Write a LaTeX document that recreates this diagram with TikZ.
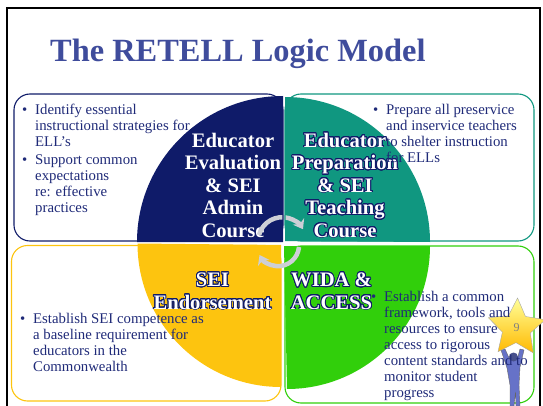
\documentclass[tikz,border=0pt]{standalone}
\usepackage{fontspec}
\setmainfont{Liberation Serif}
\usepackage{contour}
\usepackage{tikz}
\usetikzlibrary{shapes.geometric, arrows.meta}
\contournumber{24}
\contourlength{0.85pt}
\definecolor{navyq}{HTML}{0F1B69}
\definecolor{tealq}{HTML}{109780}
\definecolor{yellowq}{HTML}{FDC40F}
\definecolor{greenq}{HTML}{31CF0B}
\definecolor{titleblue}{HTML}{3F4C9C}
\definecolor{bodyblue}{HTML}{1F2A78}
\definecolor{arrowgray}{HTML}{CDCFD6}
\definecolor{manblue}{HTML}{6672C8}
\newcommand{\outl}[1]{\contour{navyq}{#1}}
\tikzset{
    panel/.style={draw, line width=1.1pt, rounded corners=16pt},
    bullets/.style={anchor=north west, inner sep=0pt, align=left,
        font=\fontsize{14.8}{16}\selectfont, text=bodyblue},
    hublabel/.style={anchor=center, inner sep=0pt, align=center, text=white,
        font=\fontsize{20.6}{22.5}\selectfont\bfseries},
    turn/.style={draw=arrowgray, line width=4.5pt, -{Stealth[length=9pt,width=13pt]}}
}
\newcommand{\itemq}[1]{\hbox to 0pt{\hss\textbullet\hspace{8pt}}#1}
\begin{document}
\begin{tikzpicture}[x=1pt,y=1pt]
\useasboundingbox (0,0) rectangle (543,-406);
% slide frame
\draw[line width=2pt] (7,-406) -- (7,-8) -- (540,-8) -- (540,-406);
\node[anchor=west, inner sep=0pt, text=titleblue, font=\fontsize{32.4}{36}\selectfont\bfseries] (title) at (50,-54) {The RETELL Logic Model};

% quarter discs
\fill[navyq] (283,-242) -- (137,-242) arc (180:90:146) -- cycle;
\fill[tealq] (285,-241) -- (285,-97) arc (90:0:145) -- cycle;
\fill[yellowq] (281,-245) -- (281,-387) arc (270:180:143.5) -- cycle;
\fill[greenq] (284,-246) -- (430,-246) arc (0:-90:143) -- cycle;

% labels
\node[hublabel] (eval) at (233,-185.5) {\outl{Educator}\\\outl{Evaluation}\\\outl{\& SEI}\\\outl{Admin}\\\outl{Course}};
\node[hublabel] (prep) at (345,-185.5) {\outl{Educator}\\\outl{Preparation}\\\outl{\& SEI}\\\outl{Teaching}\\\outl{Course}};
\node[hublabel] (endo) at (212.5,-291.5) {\outl{SEI}\\\outl{Endorsement}};
\node[hublabel] (wida) at (331.5,-291.5) {\outl{WIDA \&}\\\outl{ACCESS}};

% round arrows
\draw[turn] (259,-235) arc (165:30:24);

% panels
\draw[panel, draw=navyq] (14,-94) rectangle (283,-241);
\draw[panel, draw=tealq] (285,-94) rectangle (534,-241);
\draw[panel, draw=yellowq] (11.5,-245.5) rectangle (281,-401);
\draw[panel, draw=greenq] (285,-246) rectangle (534,-403);
\draw[turn] (299,-247) arc (-5:-152:21);

% star and figure
\fill[manblue, draw=gray!80!black, line width=0.4pt] (501,-350) -- (505,-349) -- (510,-360) -- (517,-360) -- (520,-349) -- (524,-350)
    -- (520,-367) -- (519,-385) -- (520,-406) -- (516,-406) -- (515.5,-392) -- (514,-406) -- (510,-406) -- (510,-385) -- (507,-368) -- cycle;
\fill[manblue!70!black] (513.5,-357) circle (4.5);
\node[star, star points=5, star point ratio=2.05, minimum size=60pt, inner sep=0pt, draw=gray!70,
    top color=yellow!40!white, bottom color=orange!55!yellow, text=gray, shape border rotate=-2,
    font=\fontsize{12}{12}\selectfont] (starq) at (516.5,-328) {9};

% panel texts
\node[bullets] (tl1) at (35,-104) {\itemq{Identify essential}\\instructional strategies for\\ELL’s};
\node[bullets] (tl2) at (35,-155) {\itemq{Support common}\\expectations\\re: effective\\practices};
\node[bullets] (tr1) at (386,-104) {\itemq{Prepare all preservice}\\and inservice teachers\\to shelter instruction\\for ELLs};
\node[bullets] (bl1) at (33,-313) {\itemq{Establish SEI competence as}\\a baseline requirement for\\educators in the\\Commonwealth};
\node[bullets] (br1) at (384,-291) {\itemq{Establish a common}\\framework, tools and\\resources to ensure\\access to rigorous\\content standards and to\\monitor student\\progress};
\end{tikzpicture}
\end{document}
